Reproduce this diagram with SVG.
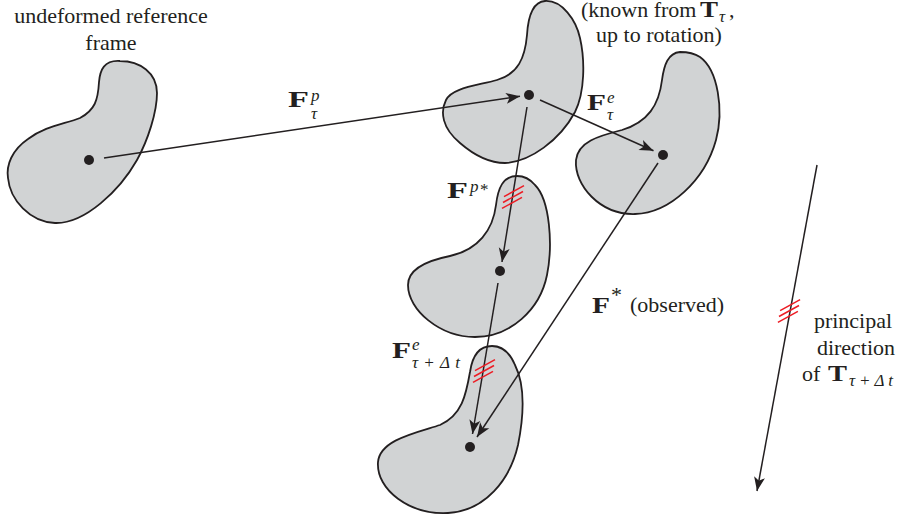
<svg xmlns="http://www.w3.org/2000/svg" width="899" height="518" viewBox="0 0 899 518">
<defs>
<style>
.blob{fill:#d1d3d4;stroke:#231f20;stroke-width:1.8}
.dot{fill:#231f20}
.conn{stroke:#231f20;stroke-width:1.5;fill:none}
.hatch{stroke:#ed1c24;stroke-width:1.5}
.t{font-family:"Liberation Serif","Times New Roman",serif;font-size:22px;fill:#231f20}
.b{font-weight:bold;font-size:23px}
.i{font-style:italic}
.s{font-size:17px}
</style>
<marker id="arr" markerUnits="userSpaceOnUse" markerWidth="16" markerHeight="13" viewBox="-15 -6.5 16 13" refX="0" refY="0" orient="auto">
<path d="M0,0 L-14,-5.5 L-10.5,0 L-14,5.5 Z" fill="#231f20"/>
</marker>
</defs>
<rect width="899" height="518" fill="#ffffff"/>

<g id="reference-frame">
<path class="blob" d="M120,61 C104,60 100,70 99,82 C98,100 95,110 80,118 C65,124 45,126 28,139 C12,150 6,165 8,178 C10,200 30,222 55,223 C85,224 120,190 137,160 C148,140 157,112 157,93 C157,73 140,61 120,61 Z"/>
<circle class="dot" cx="89" cy="160" r="5"/>
<text class="t" x="111" y="23" text-anchor="middle">undeformed reference</text>
<text class="t" x="111" y="50" text-anchor="middle">frame</text>
</g>

<g id="intermediate">
<path class="blob" d="M545,1 C532,2 528,18 527,35 C525,58 518,74 497,80 C475,86 452,88 446,100 C440,112 442,128 460,143 C475,156 490,163 505,163 C530,162 560,140 575,112 C585,92 585,60 580,38 C576,20 562,0 545,1 Z"/>
<circle class="dot" cx="529" cy="95" r="5"/>
<text class="t" x="581" y="17">(known from</text>
<text class="t b" x="700" y="17" textLength="18" lengthAdjust="spacingAndGlyphs">T</text>
<text class="t i s" x="719" y="22">τ</text>
<text class="t" x="729" y="17">,</text>
<text class="t" x="659" y="42" text-anchor="middle">up to rotation)</text>
</g>

<g id="current">
<path class="blob" d="M680,52 C668,53 664,65 662,80 C659,105 648,122 622,130 C598,136 578,142 576,160 C574,185 600,215 635,214 C670,213 705,180 716,140 C724,110 718,70 700,57 C694,53 687,52 680,52 Z"/>
<circle class="dot" cx="663" cy="155" r="5"/>
</g>

<g id="plastic-star">
<path class="blob" d="M517,176 C503,176 498,188 496,205 C493,230 478,250 450,256 C425,261 408,270 408,285 C408,310 440,337 475,337 C510,337 540,310 547,275 C553,245 550,200 535,185 C530,179 524,176 517,176 Z"/>
<circle class="dot" cx="500" cy="271" r="5"/>
</g>

<g id="next">
<path class="blob" d="M492,346 C478,346 472,358 470,372 C466,395 462,415 440,425 C415,433 380,440 378,462 C376,490 410,515 448,513 C485,511 510,480 518,445 C524,415 525,385 515,365 C510,353 502,346 492,346 Z"/>
<circle class="dot" cx="470" cy="447" r="5"/>
</g>

<g id="connectors">
<line class="conn" x1="104" y1="158" x2="520" y2="96.3" marker-end="url(#arr)"/>
<line class="conn" x1="540" y1="100" x2="653.5" y2="150.8" marker-end="url(#arr)"/>
<line class="conn" x1="527" y1="107" x2="502" y2="262" marker-end="url(#arr)"/>
<line class="conn" x1="498" y1="283" x2="472.5" y2="434" marker-end="url(#arr)"/>
<line class="conn" x1="658" y1="163" x2="477" y2="437" marker-end="url(#arr)"/>
<line class="conn" x1="817" y1="165" x2="757" y2="491" marker-end="url(#arr)"/>
<g class="hatch">
<line x1="504" y1="196.6" x2="524" y2="185.6"/>
<line x1="503" y1="202.5" x2="523" y2="191.5"/>
<line x1="502" y1="208.4" x2="522" y2="197.4"/>
<line x1="475" y1="370.6" x2="495" y2="359.6"/>
<line x1="474" y1="376.5" x2="494" y2="365.5"/>
<line x1="473" y1="382.4" x2="493" y2="371.4"/>
<line x1="780.1" y1="310.6" x2="800.1" y2="299.6"/>
<line x1="779" y1="316.5" x2="799" y2="305.5"/>
<line x1="777.9" y1="322.4" x2="797.9" y2="311.4"/>
</g>
</g>

<g id="labels">
<g id="label-Fp">
<text class="t b" x="288" y="107" textLength="21" lengthAdjust="spacingAndGlyphs">F</text>
<text class="t i s" x="311" y="101">p</text>
<text class="t i s" x="311" y="119">τ</text>
</g>
<g id="label-Fe">
<text class="t b" x="587" y="110" textLength="19" lengthAdjust="spacingAndGlyphs">F</text>
<text class="t i s" x="607" y="103">e</text>
<text class="t i s" x="607" y="120">τ</text>
</g>
<g id="label-Fpstar">
<text class="t b" x="447" y="198" textLength="21" lengthAdjust="spacingAndGlyphs">F</text>
<text class="t i s" x="470" y="192">p</text>
<text class="t s" x="480" y="195">*</text>
</g>
<g id="label-Fe-next">
<text class="t b" x="392" y="358" textLength="19" lengthAdjust="spacingAndGlyphs">F</text>
<text class="t i s" x="412" y="350">e</text>
<text class="t i s" x="412" y="368" textLength="48" lengthAdjust="spacing">τ+Δt</text>
</g>
<g id="label-Fstar">
<text class="t b" x="592" y="313" textLength="18" lengthAdjust="spacingAndGlyphs">F</text>
<text class="t" x="611" y="302">*</text>
<text class="t" x="630" y="312">(observed)</text>
</g>
<g id="label-principal">
<text class="t" x="853" y="328" text-anchor="middle">principal</text>
<text class="t" x="856" y="355" text-anchor="middle">direction</text>
<text class="t" x="802" y="381">of</text>
<text class="t b" x="828" y="381" textLength="19" lengthAdjust="spacingAndGlyphs">T</text>
<text class="t i s" x="849" y="386" textLength="44" lengthAdjust="spacing">τ+Δt</text>
</g>
</g>
</svg>
